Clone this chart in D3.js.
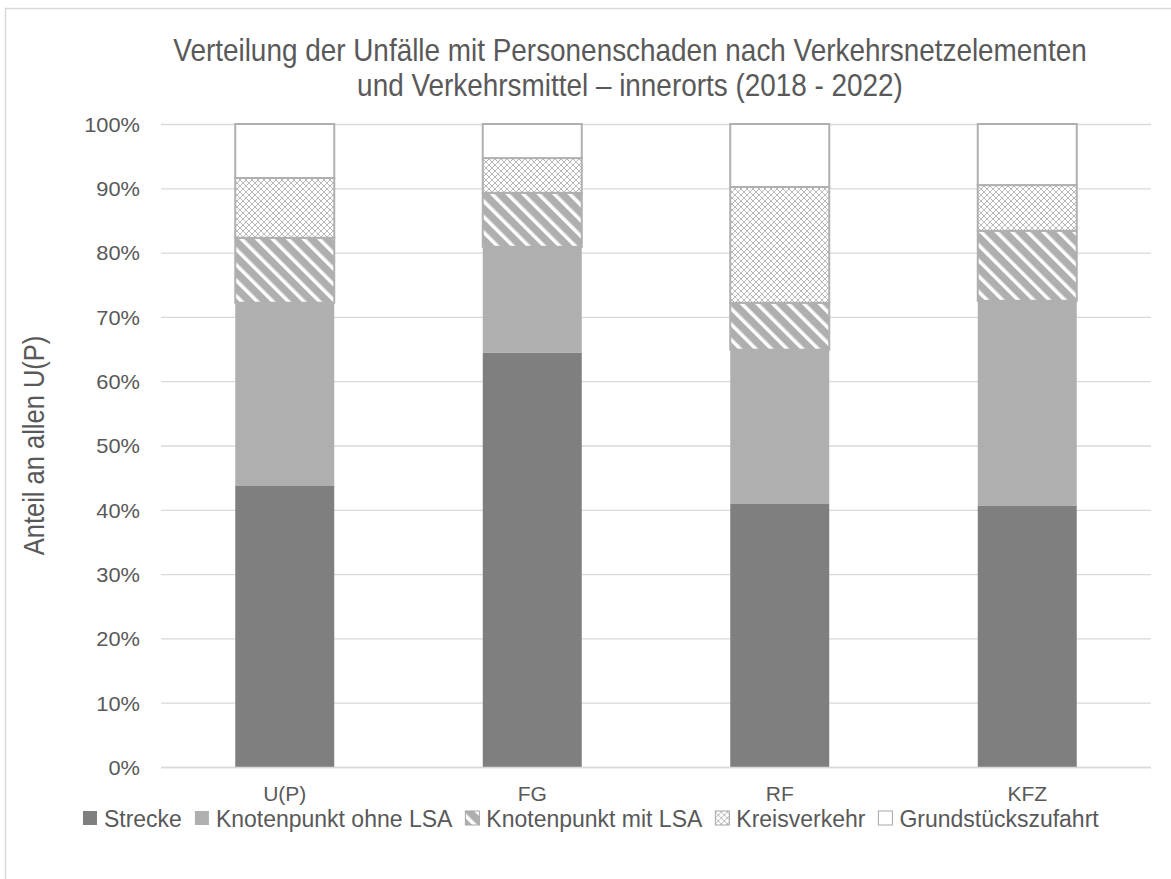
<!DOCTYPE html>
<html>
<head>
<meta charset="utf-8">
<script src="https://cdn.jsdelivr.net/npm/d3@7.9.0/dist/d3.min.js"></script>
<style>
  body { margin: 0; background: #fff; }
  svg text { font-family: "Liberation Sans", Arial, sans-serif; fill: #595959; }
</style>
</head>
<body>
<svg id="chart" width="1171" height="879"></svg>
<script>
// data (share in %)
const categories = ['U(P)', 'FG', 'RF', 'KFZ'];
const series = ['Strecke', 'Knotenpunkt ohne LSA', 'Knotenpunkt mit LSA', 'Kreisverkehr', 'Grundstückszufahrt'];
const strecke = [43.7, 64.4, 40.9, 40.6];
const ohneLSA = [28.5, 16.5, 24.0, 31.9];
const mitLSA = [10.1, 8.4, 7.3, 10.9];
const kreisverkehr = [9.3, 5.4, 18.0, 7.1];
const grundstueck = [8.4, 5.3, 9.8, 9.5];
const yTicks = [0, 10, 20, 30, 40, 50, 60, 70, 80, 90, 100];

const values = [strecke, ohneLSA, mitLSA, kreisverkehr, grundstueck];
const rows = categories.map((c, i) => {
  const r = { cat: c };
  series.forEach((s, j) => r[s] = values[j][i]);
  return r;
});

const svg = d3.select('#chart');
const margin = { left: 161, right: 20, top: 124, bottom: 112 };
const W = 1171, H = 879;

// outer frame
svg.append('rect')
  .attr('x', 5.5).attr('y', 8.5)
  .attr('width', W + 20).attr('height', H + 20)
  .attr('fill', 'none').attr('stroke', '#d9d9d9').attr('stroke-width', 1.5);

// patterns
const defs = svg.append('defs');
const stripes = defs.append('pattern')
  .attr('id', 'stripes').attr('patternUnits', 'userSpaceOnUse')
  .attr('width', 11).attr('height', 11)
  .attr('patternTransform', 'rotate(-45)');
stripes.append('rect').attr('width', 11).attr('height', 11).attr('fill', '#afafaf');
stripes.append('rect').attr('x', 0).attr('width', 3.5).attr('height', 11).attr('fill', '#fff');

const lattice = defs.append('pattern')
  .attr('id', 'lattice').attr('patternUnits', 'userSpaceOnUse')
  .attr('width', 12).attr('height', 12);
lattice.append('rect').attr('width', 12).attr('height', 12).attr('fill', '#fff');
lattice.append('path')
  .attr('d', 'M0,6 Q3,3 6,0 Q9,3 12,6 Q9,9 6,12 Q3,9 0,6 M0,0 L12,12 M12,0 L0,12')
  .attr('fill', 'none').attr('stroke', '#bababa').attr('stroke-width', 1);

const fills = ['#7f7f7f', '#afafaf', 'url(#stripes)', 'url(#lattice)', '#ffffff'];
const color = d3.scaleOrdinal().domain(series).range(fills);

const x = d3.scaleBand()
  .domain(categories)
  .range([margin.left, W - margin.right])
  .paddingInner(0.6).paddingOuter(0.3);
const y = d3.scaleLinear().domain([0, 100]).range([H - margin.bottom, margin.top]);

// gridlines
svg.append('g').selectAll('line')
  .data(yTicks)
  .join('line')
  .attr('x1', margin.left).attr('x2', W - margin.right)
  .attr('y1', d => y(d) + 0.5).attr('y2', d => y(d) + 0.5)
  .attr('stroke', '#d9d9d9').attr('stroke-width', 1.3);

// y axis labels
const yAxis = d3.axisLeft(y).tickValues(yTicks).tickFormat(d => d + '%').tickSize(0).tickPadding(0);
const gy = svg.append('g').attr('transform', `translate(${margin.left - 21},0)`).call(yAxis);
gy.select('.domain').remove();
gy.selectAll('text').attr('font-size', 21).style('fill', '#595959').attr('dy', '0.35em')
  .attr('font-family', '"Liberation Sans", Arial, sans-serif')
  .attr('transform', 'scale(1.04,1)');

// stacked bars
const stack = d3.stack().keys(series);
const layers = stack(rows);
svg.append('g').selectAll('g')
  .data(layers)
  .join('g')
  .attr('fill', d => color(d.key))
  .selectAll('rect')
  .data(d => d)
  .join('rect')
  .attr('x', d => x(d.data.cat))
  .attr('width', x.bandwidth())
  .attr('y', d => y(d[1]))
  .attr('height', d => y(d[0]) - y(d[1]))
  .attr('stroke', function () {
    const k = d3.select(this.parentNode).datum().key;
    return (k === 'Strecke' || k === 'Knotenpunkt ohne LSA') ? 'none' : '#b0b0b0';
  })
  .attr('stroke-width', 2);

// baseline
svg.append('line')
  .attr('x1', margin.left).attr('x2', W - margin.right)
  .attr('y1', y(0) + 0.5).attr('y2', y(0) + 0.5)
  .attr('stroke', '#d9d9d9').attr('stroke-width', 1.3);

// x axis labels
const xAxis = d3.axisBottom(x).tickSize(0).tickPadding(0);
const gx = svg.append('g').attr('transform', `translate(0,${y(0) + 27})`).call(xAxis);
gx.select('.domain').remove();
gx.selectAll('text').attr('font-size', 21).style('fill', '#595959').attr('dy', '0.35em')
  .attr('font-family', '"Liberation Sans", Arial, sans-serif');

// y axis title
svg.append('text')
  .attr('transform', `translate(44,${(margin.top + y(0)) / 2}) rotate(-90) scale(0.98,1.1)`)
  .attr('text-anchor', 'middle')
  .attr('font-size', 26)
  .text('Anteil an allen U(P)');

// title
const titleLines = ['Verteilung der Unfälle mit Personenschaden nach Verkehrsnetzelementen',
  'und Verkehrsmittel – innerorts (2018 - 2022)'];
svg.append('g').selectAll('text')
  .data(titleLines)
  .join('text')
  .attr('transform', (d, i) => `translate(630,${61 + i * 35}) scale(0.9,1)`)
  .attr('text-anchor', 'middle')
  .attr('font-size', 31)
  .text(d => d);

// legend
const legend = svg.append('g');
let lx = 0;
const items = legend.selectAll('g')
  .data(series)
  .join('g');
items.append('rect')
  .attr('width', 14).attr('height', 14).attr('y', -7)
  .attr('fill', d => color(d))
  .attr('stroke', d => (d === 'Strecke' || d === 'Knotenpunkt ohne LSA') ? 'none' : '#a6a6a6')
  .attr('stroke-width', 1);
items.append('text')
  .attr('x', 21).attr('dy', '0.36em')
  .attr('font-size', 23)
  .attr('transform', 'scale(1,1.08)')
  .text(d => d);
items.each(function () {
  const g = d3.select(this);
  g.attr('transform', `translate(${lx},0)`);
  lx += this.getBBox().width + 13;
});
const total = lx - 13;
legend.attr('transform', `translate(${591 - total / 2},818)`);
</script>
</body>
</html>
